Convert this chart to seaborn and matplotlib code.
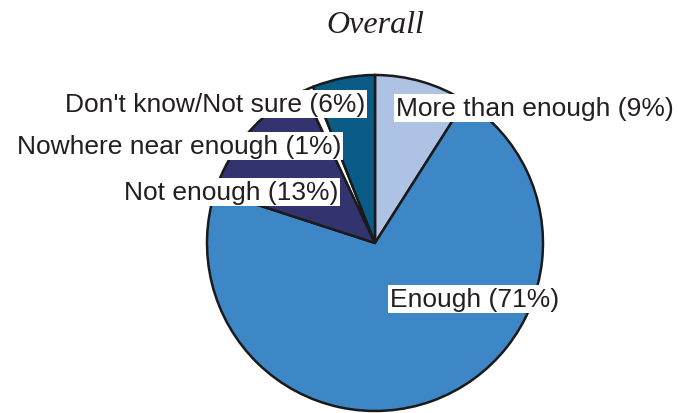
import matplotlib
matplotlib.use("Agg")
import matplotlib.pyplot as plt
import seaborn as sns

categories = ["More than enough", "Enough", "Not enough", "Nowhere near enough", "Don't know/Not sure"]
values = [9, 71, 13, 1, 6]
colors = ["#AEC3E3", "#3D87C7", "#33346F", "#FFFFFF", "#0A5C86"]
title = "Overall"

sns.set_theme(style="white")
plt.rcParams['font.family'] = ['Liberation Sans', 'DejaVu Sans']

H = 414
fig = plt.figure(figsize=(6.78, 4.14), dpi=100)
ax = fig.add_axes([0, 0, 1, 1])

cx, cy, r = 375, 244, 168
ax.pie(values, colors=colors, startangle=90, counterclock=False,
       center=(cx, H - cy), radius=r, frame=True,
       wedgeprops=dict(edgecolor="#1a1a1a", linewidth=1.8))
ax.set_xlim(0, 678)
ax.set_ylim(0, H)
ax.set_aspect('equal')
ax.axis('off')

labels = [f"{c} ({v}%)" for c, v in zip(categories, values)]
pos = [(396, 109, 'left'), (390, 300, 'left'), (338, 193, 'right'),
       (341, 147, 'right'), (365, 105, 'right')]
for lab, (x, y, ha) in zip(labels, pos):
    ax.text(x, H - y, lab, ha=ha, va='center', fontsize=19, color="#231f20",
            bbox=dict(facecolor='white', edgecolor='none', pad=1.5))

ax.text(cx, H - 25, title, ha='center', va='center', fontsize=23, fontstyle='italic',
        family=['Liberation Serif', 'DejaVu Serif'], color="#231f20")

fig.savefig("out.png", dpi=100)
